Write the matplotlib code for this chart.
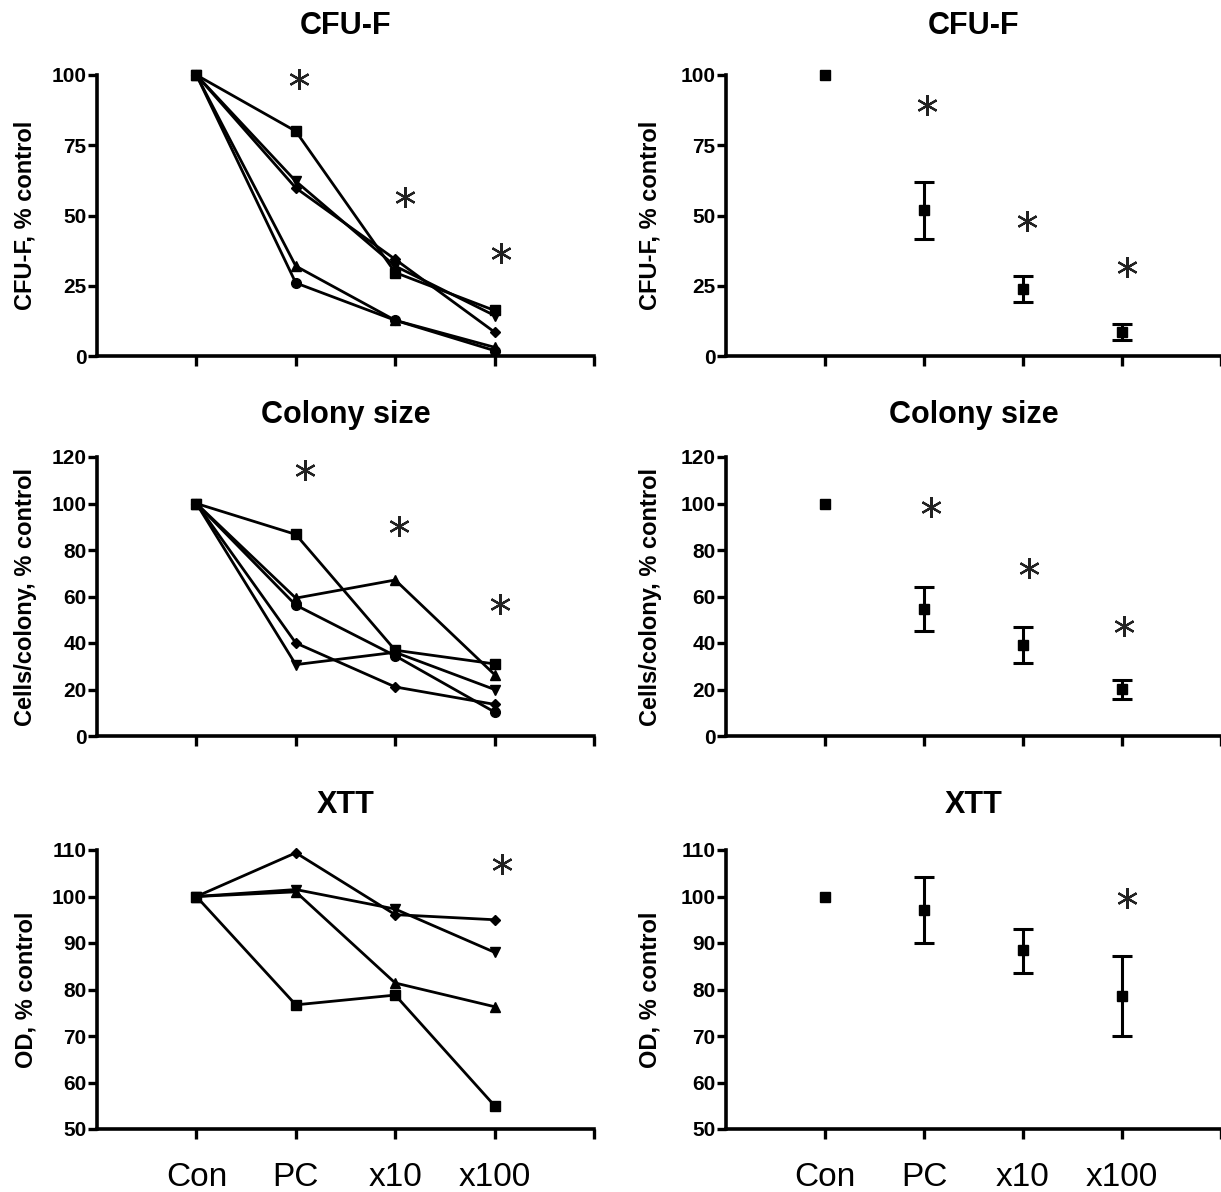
import numpy as np
import matplotlib
matplotlib.use('Agg')
import matplotlib.pyplot as plt

plt.rcParams['font.family'] = ['Liberation Sans', 'DejaVu Sans']

# x positions and labels
x = [1, 2, 3, 4]
groups = ['Con', 'PC', 'x10', 'x100']

# left column: individual experiments
cfu_square = [100, 80, 29.7, 16.2]
cfu_tri_down = [100, 62.2, 32, 14.4]
cfu_diamond = [100, 59.8, 34.4, 8.5]
cfu_tri_up = [100, 32, 12.7, 3.1]
cfu_circle = [100, 26, 12.7, 1.9]

col_square = [100, 86.7, 36.9, 31]
col_tri_up = [100, 59.3, 67.1, 26.4]
col_circle = [100, 56.3, 34.5, 10.3]
col_diamond = [100, 40, 21.1, 13.6]
col_tri_down = [100, 30.7, 36, 20]

xtt_diamond = [100, 109.4, 96.1, 95]
xtt_tri_down = [100, 101.5, 97.3, 88]
xtt_tri_up = [100, 101, 81.4, 76.3]
xtt_square = [100, 76.7, 78.8, 55]

# right column: mean with error range
cfu_mean = [100, 51.8, 23.9, 8.5]
cfu_lo = [100, 41.8, 19.1, 5.7]
cfu_hi = [100, 61.8, 28.5, 11.5]

col_mean = [100, 54.6, 39.1, 20.3]
col_lo = [100, 45, 31.4, 16]
col_hi = [100, 64, 46.7, 23.9]

xtt_mean = [100, 97.1, 88.4, 78.6]
xtt_lo = [100, 90, 83.6, 69.9]
xtt_hi = [100, 104.1, 93, 87.3]

# significance marks
stars_cfu_l = ([2.03, 3.10, 4.06], [98.6, 56.6, 36.5])
stars_cfu_r = ([2.03, 3.04, 4.05], [89.3, 48.1, 31.7])
stars_col_l = ([2.09, 3.04, 4.05], [114.3, 90.3, 56.7])
stars_col_r = ([2.07, 3.06, 4.02], [98.6, 72.4, 47.4])
stars_xtt_l = ([4.07], [107])
stars_xtt_r = ([4.05], [99.7])

titles = ['CFU-F', 'Colony size', 'XTT']
ylabels = ['CFU-F, % control', 'Cells/colony, % control', 'OD, % control']
ylims = [(0, 100), (0, 120), (50, 110)]
yticks = [np.arange(0, 101, 25), np.arange(0, 121, 20), np.arange(50, 111, 10)]

fig = plt.figure(figsize=(12.21, 11.92), dpi=100)
W, H = 1221, 1192

rows = [(75, 356), (457, 736), (850, 1129)]
title_y = [26, 415, 805]
cols = [(97, 594), (726, 1221)]


def make_ax(r, c):
    top, bot = rows[r]
    l, rgt = cols[c]
    ax = fig.add_axes([l / W, 1 - bot / H, (rgt - l) / W, (bot - top) / H])
    ax.set_xlim(0, 5)
    ax.set_ylim(*ylims[r])
    ax.set_yticks(yticks[r])
    ax.set_xticks([1, 2, 3, 4, 5])
    for s in ['top', 'right']:
        ax.spines[s].set_visible(False)
    for s in ['left', 'bottom']:
        ax.spines[s].set_linewidth(2.6)
    ax.tick_params(axis='y', direction='out', length=6.5, width=2.4, pad=1,
                   labelsize=15)
    ax.tick_params(axis='x', direction='out', length=7, width=2.4)
    for t in ax.get_yticklabels():
        t.set_fontweight('bold')
    if r == 2:
        ax.set_xticklabels(groups + [''], fontsize=24)
        ax.tick_params(axis='x', pad=17)
    else:
        ax.set_xticklabels([])
    ax.text(0.5, 1 + (top - title_y[r]) / (bot - top), titles[r],
            transform=ax.transAxes, ha='center', va='center',
            fontsize=22, fontweight='bold')
    ax.set_ylabel(ylabels[r], fontsize=17, fontweight='bold')
    ax.yaxis.set_label_coords(-(60 if c == 0 else 64) / (rgt - l), 0.5)
    return ax


def stars(ax, pts):
    ax.plot(pts[0], pts[1], linestyle='none', marker=(6, 2, 0),
            markersize=15, markeredgewidth=1.6, color='#222222', clip_on=False)


lw = 2.0
left_series = [
    [(cfu_circle, 'o', 7), (cfu_tri_up, '^', 7), (cfu_diamond, 'D', 5.5),
     (cfu_tri_down, 'v', 7.5), (cfu_square, 's', 7.5)],
    [(col_circle, 'o', 7), (col_tri_down, 'v', 7.5), (col_diamond, 'D', 5.5),
     (col_tri_up, '^', 7.5), (col_square, 's', 7.5)],
    [(xtt_diamond, 'D', 5.5), (xtt_tri_down, 'v', 7.5), (xtt_tri_up, '^', 7.5),
     (xtt_square, 's', 7.5)],
]
left_stars = [stars_cfu_l, stars_col_l, stars_xtt_l]

right_data = [(cfu_mean, cfu_lo, cfu_hi), (col_mean, col_lo, col_hi),
              (xtt_mean, xtt_lo, xtt_hi)]
right_stars = [stars_cfu_r, stars_col_r, stars_xtt_r]

for r in range(3):
    ax = make_ax(r, 0)
    for vals, m, ms in left_series[r]:
        ax.plot(x, vals, color='black', linewidth=lw, marker=m, markersize=ms,
                clip_on=False)
    stars(ax, left_stars[r])

    ax = make_ax(r, 1)
    mean, lo, hi = right_data[r]
    mean = np.array(mean)
    err = [mean[1:] - np.array(lo[1:]), np.array(hi[1:]) - mean[1:]]
    ax.errorbar(x[1:], mean[1:], yerr=err, fmt='none', ecolor='black',
                elinewidth=2.2, capsize=7, capthick=2.2)
    ax.plot(x, mean, linestyle='none', marker='s', markersize=7,
            color='black', clip_on=False)
    stars(ax, right_stars[r])

fig.savefig('out.png', dpi=100)
